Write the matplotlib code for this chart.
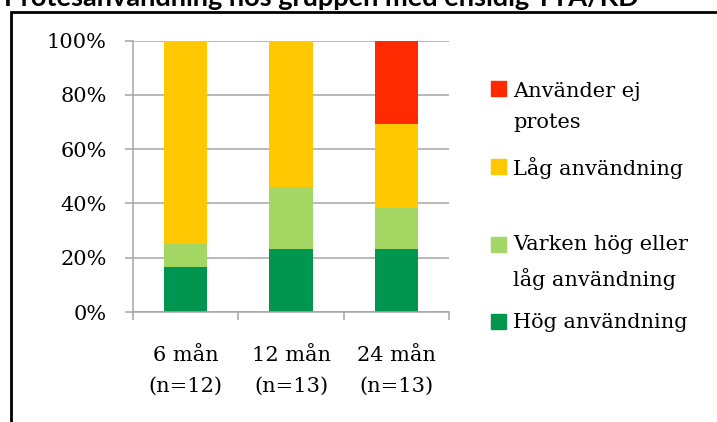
import matplotlib
matplotlib.use("Agg")
import matplotlib.pyplot as plt
from matplotlib.patches import Rectangle
from matplotlib.ticker import FuncFormatter, FixedLocator
from matplotlib.transforms import blended_transform_factory

title = "Protesanvändning hos gruppen med ensidig TTA/KD"
categories = ["6 mån\n(n=12)", "12 mån\n(n=13)", "24 mån\n(n=13)"]

# share of patients (%) per group, stacked bottom to top
hog = [16.7, 23.1, 23.1]
varken = [8.3, 23.1, 15.4]
lag = [75.0, 53.8, 30.8]
ej = [0.0, 0.0, 30.8]

series_names = ["Hög användning", "Varken hög eller\nlåg användning",
                "Låg användning", "Använder ej\nprotes"]
colors = ["#00964f", "#a3d663", "#ffc800", "#ff2a00"]

W, H = 717, 422
fig = plt.figure(figsize=(W / 100, H / 100), dpi=100)
serif = "DejaVu Serif"
fs = 15
grey = "#a6a6a6"

# outer chart border (continues past right and bottom edge)
fig.patches.append(Rectangle((10.7 / W, -0.2), 1.2, 0.2 + 1 - 12 / H,
                             transform=fig.transFigure, fill=False,
                             edgecolor="black", linewidth=2.0))

fig.text(4 / W, 1 - 6 / H, title, fontsize=19.5, fontweight="bold",
         family="Lato", va="baseline", ha="left")

ax = fig.add_axes([133 / W, 1 - 312 / H, (449 - 133) / W, (312 - 40.7) / H])

x = range(len(categories))
bottom = [0.0] * len(categories)
for vals, col in zip([hog, varken, lag, ej], colors):
    ax.bar(x, vals, width=0.41, bottom=bottom, color=col, zorder=2)
    bottom = [b + v for b, v in zip(bottom, vals)]

ax.set_xlim(-0.5, 2.5)
ax.set_ylim(0, 100)
ax.set_yticks(range(0, 101, 20))
ax.yaxis.set_major_formatter(FuncFormatter(lambda v, p: f"{v:.0f}%"))
ax.grid(axis="y", color=grey, linewidth=1.1, zorder=0)
ax.set_axisbelow(True)
for s in ["top", "right"]:
    ax.spines[s].set_visible(False)
for s in ["left", "bottom"]:
    ax.spines[s].set_color(grey)
    ax.spines[s].set_linewidth(1.1)
ax.tick_params(axis="y", length=6, width=1.1, color=grey, pad=13,
               labelsize=fs)
for lab in ax.get_yticklabels():
    lab.set_family(serif)

# category boundaries as tick marks, labels drawn separately
ax.xaxis.set_major_locator(FixedLocator([-0.5, 0.5, 1.5, 2.5]))
ax.tick_params(axis="x", length=5.5, width=1.1, color=grey,
               labelbottom=False)
trans = blended_transform_factory(ax.transData, ax.transAxes)
for i, cat in enumerate(categories):
    ax.text(i, -0.2175, cat, transform=trans, ha="center", va="center",
            fontsize=fs, family=serif, linespacing=1.8)

# legend, top entry first
leg_items = [
    (series_names[3], colors[3], 88, 106.5),
    (series_names[2], colors[2], 166.5, 168),
    (series_names[1], colors[1], 244, 262.5),
    (series_names[0], colors[0], 321, 323),
]
for name, col, sq_y, txt_y in leg_items:
    fig.patches.append(Rectangle((491 / W, 1 - (sq_y + 7.5) / H), 15 / W, 15 / H,
                                 transform=fig.transFigure, color=col))
    fig.text(513 / W, 1 - txt_y / H, name, fontsize=fs, family=serif,
             va="center", ha="left", linespacing=1.8)

fig.savefig("out.png", dpi=100)
